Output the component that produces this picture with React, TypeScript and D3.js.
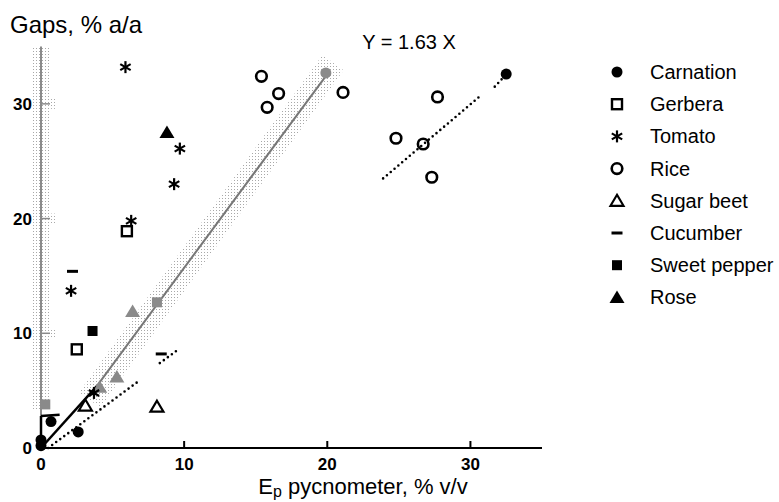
import React from "react";
import * as d3 from "d3";

// point data: [Ep pycnometer %, gaps %]
const carnation: [number, number][] = [[0, 0.2], [0, 0.7], [0.7, 2.3], [2.6, 1.4], [32.5, 32.6]];
const gerbera: [number, number][] = [[6.0, 18.9], [2.5, 8.6]];
const tomato: [number, number][] = [[5.9, 33.2], [6.3, 19.8], [9.7, 26.1], [9.3, 23.0], [2.1, 13.7], [3.7, 4.8]];
const rice: [number, number][] = [[15.4, 32.4], [16.6, 30.9], [15.8, 29.7], [21.1, 31.0], [27.7, 30.6], [24.8, 27.0], [26.7, 26.5], [27.3, 23.6]];
const sugarBeet: [number, number][] = [[8.1, 3.6], [3.1, 3.7]];
const cucumber: [number, number][] = [[2.2, 15.4], [8.4, 8.2]];
const sweetPepper: [number, number][] = [[3.6, 10.2]];
const rose: [number, number][] = [[8.8, 27.5]];

// grey (shaded) reference points
const greySquares: [number, number][] = [[0.3, 3.8], [8.1, 12.7]];
const greyCircles: [number, number][] = [[19.9, 32.7]];
const greyTriangles: [number, number][] = [[6.4, 11.9], [5.3, 6.2], [4.1, 5.3]];

// lines
const blackLine: [number, number][] = [[0, 0], [3.9, 5.4]];
const greyLine: [number, number][] = [[3.9, 5.4], [20, 32.6]];
const greyBand: [number, number][] = [[3.4, 4.2], [20.4, 33.6]];
const dotted: [number, number][][] = [
  [[0.5, 0], [6.9, 5.9]],
  [[8.3, 7.4], [9.6, 8.6]],
  [[23.9, 23.5], [30.7, 30.7]],
  [[31.7, 31.5], [32.3, 32.3]],
];
const flag: [number, number][] = [[0, 2.8], [1.3, 2.9]];

const xTicks = [0, 10, 20, 30];
const yTicks = [0, 10, 20, 30];
const legendLabels = ["Carnation", "Gerbera", "Tomato", "Rice", "Sugar beet", "Cucumber", "Sweet pepper", "Rose"];

const FONT = "'Liberation Sans', Arial, Helvetica, sans-serif";

type Shape = "fcircle" | "osquare" | "star" | "ocircle" | "otri" | "dash" | "fsquare" | "ftri";
const legendShapes: Shape[] = ["fcircle", "osquare", "star", "ocircle", "otri", "dash", "fsquare", "ftri"];

function Marker({ shape, x, y, color = "#000" }: { shape: Shape; x: number; y: number; color?: string }) {
  switch (shape) {
    case "fcircle":
      return <circle cx={x} cy={y} r={5.5} fill={color} />;
    case "ocircle":
      return <circle cx={x} cy={y} r={5.3} fill="none" stroke={color} strokeWidth={2.6} />;
    case "osquare":
      return <rect x={x - 5} y={y - 5} width={10} height={10} fill="none" stroke={color} strokeWidth={2.4} />;
    case "fsquare":
      return <rect x={x - 5} y={y - 5} width={10} height={10} fill={color} />;
    case "otri":
      return (
        <path
          d={`M${x},${y - 6}L${x + 6.5},${y + 5}L${x - 6.5},${y + 5}Z`}
          fill="none"
          stroke={color}
          strokeWidth={2.2}
        />
      );
    case "ftri":
      return <path d={`M${x},${y - 7}L${x + 7.5},${y + 5.5}L${x - 7.5},${y + 5.5}Z`} fill={color} />;
    case "dash":
      return <line x1={x - 5.5} x2={x + 5.5} y1={y} y2={y} stroke={color} strokeWidth={3} />;
    case "star": {
      const r = 6;
      const arms = [90, 30, -30].map((a) => (a * Math.PI) / 180);
      return (
        <g stroke={color} strokeWidth={2.2}>
          {arms.map((a, i) => (
            <line
              key={i}
              x1={x - r * Math.cos(a)}
              y1={y - r * Math.sin(a)}
              x2={x + r * Math.cos(a)}
              y2={y + r * Math.sin(a)}
            />
          ))}
        </g>
      );
    }
  }
  return null;
}

export default function App() {
  const x = d3.scaleLinear().domain([0, 35]).range([41, 542]);
  const y = d3.scaleLinear().domain([0, 35]).range([448, 46.5]);
  const line = d3
    .line<[number, number]>()
    .x((d) => x(d[0]))
    .y((d) => y(d[1]));

  const series: [Shape, [number, number][]][] = [
    ["fcircle", carnation],
    ["osquare", gerbera],
    ["star", tomato],
    ["ocircle", rice],
    ["otri", sugarBeet],
    ["dash", cucumber],
    ["fsquare", sweetPepper],
    ["ftri", rose],
  ];

  const grey = "#8a8a8a";

  return (
    <svg
      width={779}
      height={502}
      style={{ position: "absolute", left: 0, top: 0, background: "#fff" }}
      fontFamily={FONT}
    >
      <defs>
        <pattern id="stip" width="3" height="3" patternUnits="userSpaceOnUse">
          <rect width="1" height="1" fill="#a8a8a8" />
        </pattern>
      </defs>

      {/* shaded bands */}
      <line x1={x(0)} x2={x(0)} y1={y(3.4)} y2={y(35)} stroke="url(#stip)" strokeWidth={16} />
      {yTicks.slice(1).map((t) => (
        <rect key={t} x={x(0) + 4} y={y(t) - 5} width={12} height={10} fill="url(#stip)" />
      ))}
      <path d={line(greyBand) ?? ""} stroke="url(#stip)" strokeWidth={26} fill="none" />

      {/* axes */}
      <line x1={x(0)} x2={x(35)} y1={y(0)} y2={y(0)} stroke="#000" strokeWidth={2} />
      {xTicks.slice(1).map((t) => (
        <line key={t} x1={x(t)} x2={x(t)} y1={y(0)} y2={y(0) - 7} stroke="#000" strokeWidth={2} />
      ))}
      <line x1={x(0)} x2={x(0)} y1={y(0)} y2={y(2.8)} stroke="#000" strokeWidth={2.5} />
      <line x1={x(0)} x2={x(0)} y1={y(2.8)} y2={y(35)} stroke={grey} strokeWidth={2} />
      {yTicks.slice(1).map((t) => (
        <line key={t} x1={x(0)} x2={x(0) + 9} y1={y(t)} y2={y(t)} stroke={grey} strokeWidth={1.5} />
      ))}

      {xTicks.map((t) => (
        <text key={t} x={x(t)} y={y(0) + 22} textAnchor="middle" fontSize={17} fontWeight="bold">
          {t}
        </text>
      ))}
      {yTicks.map((t) => (
        <text key={t} x={x(0) - 9} y={y(t) + 6} textAnchor="end" fontSize={17} fontWeight="bold">
          {t}
        </text>
      ))}

      {/* lines */}
      <path d={line(greyLine) ?? ""} stroke="#777" strokeWidth={2} fill="none" />
      <path d={line(blackLine) ?? ""} stroke="#000" strokeWidth={2.5} fill="none" />
      <path d={line(flag) ?? ""} stroke="#000" strokeWidth={2.5} fill="none" />
      {dotted.map((seg, i) => (
        <path
          key={i}
          d={line(seg) ?? ""}
          stroke="#000"
          strokeWidth={2.6}
          strokeDasharray="0 5"
          strokeLinecap="round"
          fill="none"
        />
      ))}

      {/* grey markers */}
      {greySquares.map((d, i) => (
        <Marker key={"gs" + i} shape="fsquare" x={x(d[0])} y={y(d[1])} color={grey} />
      ))}
      {greyCircles.map((d, i) => (
        <Marker key={"gc" + i} shape="fcircle" x={x(d[0])} y={y(d[1])} color={grey} />
      ))}
      {greyTriangles.map((d, i) => (
        <Marker key={"gt" + i} shape="ftri" x={x(d[0])} y={y(d[1])} color={grey} />
      ))}

      {/* data markers */}
      {series.map(([shape, pts]) =>
        pts.map((d, i) => <Marker key={shape + i} shape={shape} x={x(d[0])} y={y(d[1])} />)
      )}

      {/* equation */}
      <text x={409} y={49} textAnchor="middle" fontSize={20}>
        Y = 1.63 X
      </text>

      {/* titles */}
      <text x={10} y={33} fontSize={24}>
        Gaps, % a/a
      </text>
      <text x={363} y={494} textAnchor="middle" fontSize={22}>
        E<tspan fontSize={16} dy={3}>p</tspan>
        <tspan dy={-3}> pycnometer, % v/v</tspan>
      </text>

      {/* legend */}
      {legendLabels.map((label, i) => {
        const ly = 72 + i * 32.2;
        return (
          <g key={label}>
            <Marker shape={legendShapes[i]} x={617} y={ly} />
            <text x={650} y={ly + 7} fontSize={20}>
              {label}
            </text>
          </g>
        );
      })}
    </svg>
  );
}
